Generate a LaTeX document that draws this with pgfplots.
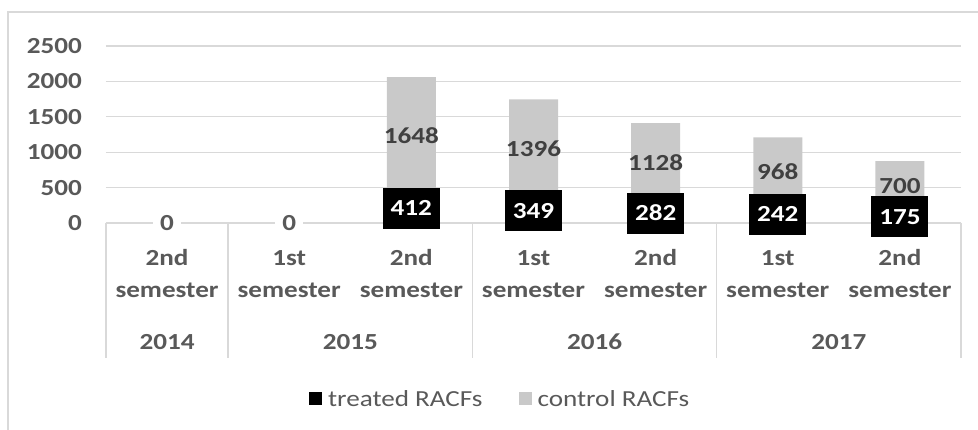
\documentclass[border=0pt]{standalone}
\usepackage{fontspec}
\setmainfont{Carlito}[FakeStretch=1.18]
\usepackage{pgfplots}
\usepackage{pgfplotstable}
\pgfplotsset{compat=1.18}
\definecolor{tickc}{HTML}{595959}
\definecolor{labc}{HTML}{404040}
\definecolor{gridc}{HTML}{D9D9D9}
\definecolor{ctrlc}{HTML}{C9C9C9}
\pgfplotstableread{
x treated control
0 0 0
1 0 0
2 412 1648
3 349 1396
4 282 1128
5 242 968
6 175 700
}\datatable
\begin{document}
\begin{tikzpicture}[font=\fontsize{23}{27}\selectfont,
  tlab/.style={fill=black, text=white, font=\fontsize{23}{27}\selectfont\bfseries, minimum width=57pt, minimum height=41pt, inner sep=0pt},
  clab/.style={text=labc, font=\fontsize{23}{27}\selectfont\bfseries, inner sep=0pt},
  zlab/.style={fill=white, text=tickc, font=\fontsize{23}{27}\selectfont\bfseries, inner xsep=7pt, inner ysep=1pt},
  yearlab/.style={text=tickc, font=\fontsize{23}{27}\selectfont\bfseries}]
\useasboundingbox (0,0) rectangle (978pt,430pt);
\draw[gridc, line width=1.3pt] (8pt,0pt) -- (8pt,418pt) -- (978pt,418pt);
\gdef\labelcmds{}
\begin{axis}[
  at={(106pt,207pt)}, anchor=south west,
  scale only axis, width=855pt, height=177pt,
  xmin=-0.5, xmax=6.5, ymin=0, ymax=2500,
  ybar stacked, bar width=49pt,
  clip=false,
  axis line style={draw=none},
  major tick length=0pt,
  ymajorgrids, grid style={draw=gridc, line width=1.3pt},
  ytick={0,500,1000,1500,2000,2500},
  xtick={0,1,2,3,4,5,6},
  xticklabels={{2nd\\semester},{1st\\semester},{2nd\\semester},{1st\\semester},{2nd\\semester},{1st\\semester},{2nd\\semester}},
  xticklabel style={align=center, anchor=center, yshift=-51pt, text=tickc, font=\fontsize{23}{32}\selectfont\bfseries},
  yticklabel style={anchor=east, inner sep=0pt, xshift=-24pt, text=tickc, font=\fontsize{23}{27}\selectfont\bfseries},
  /pgf/number format/assume math mode=true,
  yticklabel={\pgfmathprintnumber[fixed,1000 sep={}]{\tick}},
  legend columns=2,
  legend style={draw=none, fill=none, at={(0.461,-0.994)}, anchor=center,
    font=\fontsize{23}{27}\selectfont, text=tickc,
    /tikz/every even column/.append style={column sep=34pt}},
]
\addplot[fill=black, draw=none, legend image code/.code={\fill[black] (0pt,-6.5pt) rectangle (13pt,6.5pt); \path (17pt,0pt);}] table[x=x, y=treated] {\datatable};
\addlegendentry{treated RACFs}
\addplot[fill=ctrlc, draw=none, legend image code/.code={\fill[ctrlc] (0pt,-6.5pt) rectangle (13pt,6.5pt); \path (17pt,0pt);}] table[x=x, y=control] {\datatable};
\addlegendentry{control RACFs}
\pgfplotsinvokeforeach{-0.5,0.5,2.5,4.5,6.5}{
  \draw[gridc, line width=1.3pt] (axis cs:#1,0) -- ++(0pt,-135pt);
}
\node[yearlab, yshift=-119pt] at (axis cs:0,0) {2014};
\node[yearlab, yshift=-119pt] at (axis cs:1.5,0) {2015};
\node[yearlab, yshift=-119pt] at (axis cs:3.5,0) {2016};
\node[yearlab, yshift=-119pt] at (axis cs:5.5,0) {2017};
\pgfplotsforeachungrouped \i in {2,3,4,5,6}{%
  \pgfplotstablegetelem{\i}{treated}\of\datatable \let\tv\pgfplotsretval
  \pgfplotstablegetelem{\i}{control}\of\datatable \let\cv\pgfplotsretval
  \pgfmathsetmacro\tm{\tv/2}%
  \pgfmathsetmacro\cm{\tv+\cv/2}%
  \edef\temp{\noexpand\coordinate (t\i) at (axis cs:\i,\tm);
    \noexpand\coordinate (c\i) at (axis cs:\i,\cm);}%
  \temp
  \xdef\labelcmds{\unexpanded\expandafter{\labelcmds}\noexpand\node[tlab] at (t\i) {\tv};
    \noexpand\node[clab] at (c\i) {\cv};}%
}
\pgfplotsforeachungrouped \i in {0,1}{%
  \pgfplotstablegetelem{\i}{treated}\of\datatable \let\tv\pgfplotsretval
  \edef\temp{\noexpand\coordinate (z\i) at (axis cs:\i,0);}%
  \temp
  \xdef\labelcmds{\unexpanded\expandafter{\labelcmds}\noexpand\node[zlab] at (z\i) {\tv};}%
}
\end{axis}
\labelcmds
\end{tikzpicture}
\end{document}
